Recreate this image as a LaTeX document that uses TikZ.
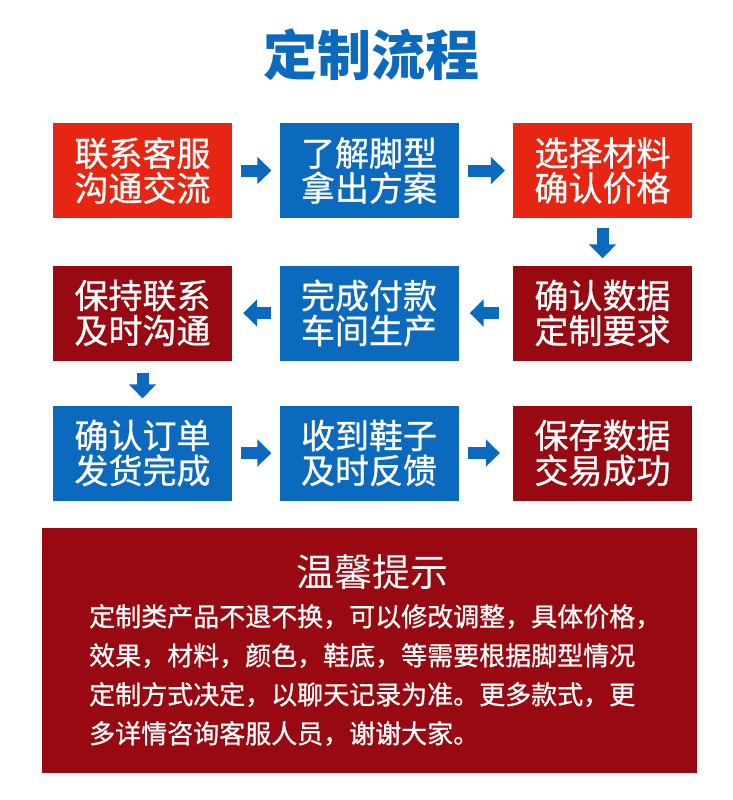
\documentclass[tikz,border=0pt]{standalone}
\usepackage{fontspec}
\newfontfamily\cjk{Noto Sans CJK SC}
\newfontfamily\cjkmid[FakeBold=0.8]{Noto Sans CJK SC}
\usetikzlibrary{arrows.meta,positioning}
\definecolor{flowblue}{RGB}{11,106,190}
\definecolor{flowred}{RGB}{230,38,18}
\definecolor{flowdark}{RGB}{152,9,17}

\tikzset{
  stepbox/.style={minimum width=179pt, minimum height=95pt, inner sep=0pt,
    align=center, text=white, font=\cjkmid\fontsize{34}{35}\selectfont},
  flow/.style={flowblue, line width=12pt, -{Triangle[length=14pt,width=27pt]}},
}

\begin{document}
\begin{tikzpicture}[x=1pt,y=-1pt]
  \useasboundingbox (0,0) rectangle (733,800);

  % Title
  \node[text=flowblue, font=\cjk\bfseries\fontsize{54}{54}\selectfont] (title) at (371,55) {定制流程};

  % Row 1
  \node[stepbox, fill=flowred]  (contact)  at (142.5,170.5) {联系客服\\沟通交流};
  \node[stepbox, fill=flowblue] (measure)  at (369,170.5)   {了解脚型\\拿出方案};
  \node[stepbox, fill=flowred]  (material) at (602.5,170.5) {选择材料\\确认价格};

  % Row 2
  \node[stepbox, fill=flowdark] (keep)    at (142.5,313) {保持联系\\及时沟通};
  \node[stepbox, fill=flowblue] (produce) at (369,313)   {完成付款\\车间生产};
  \node[stepbox, fill=flowdark] (confirm) at (602.5,313) {确认数据\\定制要求};

  % Row 3
  \node[stepbox, fill=flowblue] (order)   at (142.5,453) {确认订单\\发货完成};
  \node[stepbox, fill=flowblue] (receive) at (369,453)   {收到鞋子\\及时反馈};
  \node[stepbox, fill=flowdark] (finish)  at (602.5,453) {保存数据\\交易成功};

  % Arrows between steps
  \draw[flow, shorten <=9pt, shorten >=8pt] (contact) -- (measure);
  \draw[flow, shorten <=9pt, shorten >=8pt] (measure) -- (material);
  \draw[flow, shorten <=10pt, shorten >=7pt] (material) -- (confirm);
  \draw[flow, shorten <=14pt, shorten >=11pt] (confirm) -- (produce);
  \draw[flow, shorten <=8pt, shorten >=11pt] (produce) -- (keep);
  \draw[flow, shorten <=12pt, shorten >=7pt] (keep) -- (order);
  \draw[flow, shorten <=9pt, shorten >=8pt] (order) -- (receive);
  \draw[flow, shorten <=9pt, shorten >=13pt] (receive) -- (finish);

  % Notice box
  \node[fill=flowdark, minimum width=655pt, minimum height=245pt, inner sep=0pt] (notice) at (369.5,650.5) {};
  \node[text=white, font=\cjk\fontsize{38}{38}\selectfont] (noticetitle) at (372,572) {温馨提示};
  \node[text=white, align=left, anchor=north west, inner sep=0pt,
    font=\cjkmid\fontsize{26}{39}\selectfont] (noticetext) at (89,604)
    {定制类产品不退不换，可以修改调整，具体价格，\\
     效果，材料，颜色，鞋底，等需要根据脚型情况\\
     定制方式决定，以聊天记录为准。更多款式，更\\
     多详情咨询客服人员，谢谢大家。};

\end{tikzpicture}
\end{document}
